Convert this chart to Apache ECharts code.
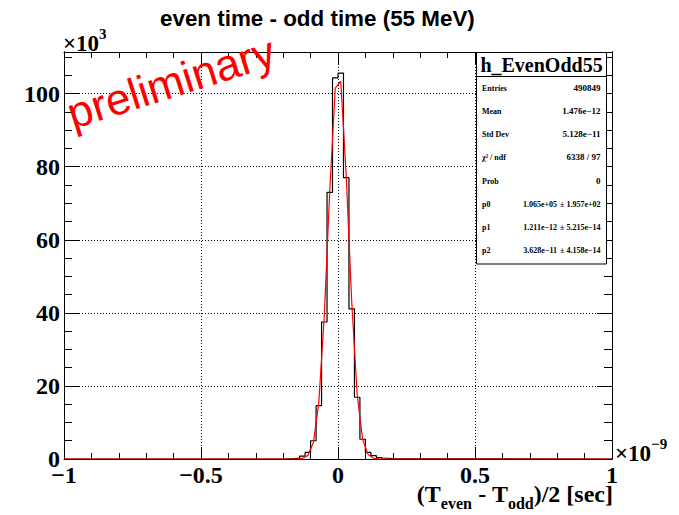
<!DOCTYPE html>
<html><head><meta charset="utf-8">
<script src="https://cdn.jsdelivr.net/npm/echarts@6/dist/echarts.min.js"></script>
<style>html,body{margin:0;padding:0;background:#fff}#c{width:679px;height:515px}</style>
</head><body><div id="c"></div>
<script>
// ---- data ----
const chartTitle = 'even time - odd time (55 MeV)';
const xRange = [-1, 1];
const yRange = [0, 111.4];           // counts in units of 10^3
const binWidth = 0.02;               // units of 10^-9 s
const binCenters = [-0.19,-0.17,-0.15,-0.13,-0.11,-0.09,-0.07,-0.05,-0.03,-0.01,
                     0.01, 0.03, 0.05, 0.07, 0.09, 0.11, 0.13, 0.15, 0.17, 0.19];
const binCounts  = [0.05, 0.1, 0.25, 0.8, 1.8, 5.0, 14.6, 37.5, 73.0, 104.3,
                    105.6, 77.0, 41.1, 16.9, 5.4, 1.8, 0.9, 0.4, 0.2, 0.1];
const fitX = [-1, -0.19,-0.17,-0.15,-0.13,-0.11,-0.09,-0.07,-0.05,-0.03,-0.01,
               0.01, 0.03, 0.05, 0.07, 0.09, 0.11, 0.13, 0.15, 0.17, 0.19, 1];
const fitY = [0, 0, 0, 0.02, 0.15, 0.97, 4.5, 15.5, 39.3, 73.6, 101.5,
              103.4, 77.7, 43.1, 17.7, 5.3, 1.2, 0.2, 0.02, 0, 0, 0];
const statsName = 'h_EvenOdd55';
const statsLabels = ['Entries', 'Mean', 'Std Dev', 'χ² / ndf', 'Prob', 'p0', 'p1', 'p2'];
const statsValues = ['490849', '1.476e−12', '5.128e−11', '6338 / 97', '0', '1.065e+05', '1.211e−12', '3.628e−11'];
const statsErrors = ['', '', '', '', '', '± 1.957e+02', '± 5.215e−14', '± 4.158e−14'];
const watermark = 'preliminary';

// ---- build ----
const histData = [[xRange[0], 0], [binCenters[0] - binWidth / 2, 0]];
binCenters.forEach((c, i) => {
  histData.push([c - binWidth / 2, binCounts[i]]);
  histData.push([c + binWidth / 2, binCounts[i]]);
});
histData.push([binCenters[binCenters.length - 1] + binWidth / 2, 0]);
histData.push([xRange[1], 0]);
const fitData = fitX.map((x, i) => [x, fitY[i]]);

const serif = '"Liberation Serif", "DejaVu Serif", serif';
const sans = '"Liberation Sans", Arial, sans-serif';
const dotted = { show: true, lineStyle: { color: '#000', width: 1, type: [1, 2] } };
const fmtX = v => (v < 0 ? '−' + String(-v) : String(v));

function xAx(pos, labels) {
  return {
    type: 'value', position: pos, min: xRange[0], max: xRange[1], interval: 0.5,
    axisLine: { show: true, onZero: false, lineStyle: { color: '#000', width: 1 } },
    axisTick: { show: true, inside: true, length: 12, lineStyle: { color: '#000' } },
    minorTick: { show: true, splitNumber: 5, length: 6, lineStyle: { color: '#000' } },
    axisLabel: labels ? { show: true, color: '#000', fontFamily: serif, fontWeight: 'bold', fontSize: 24, lineHeight: 16, margin: 8, formatter: fmtX } : { show: false },
    splitLine: labels ? dotted : { show: false },
    minorSplitLine: { show: false }
  };
}
function yAx(pos, major, labels) {
  return {
    type: 'value', position: pos, min: yRange[0], max: yRange[1], interval: major ? 20 : 5,
    axisLine: { show: true, onZero: false, lineStyle: { color: '#000', width: 1 } },
    axisTick: { show: true, inside: true, length: major ? 15 : 8, lineStyle: { color: '#000' } },
    axisLabel: labels ? { show: true, color: '#000', fontFamily: serif, fontWeight: 'bold', fontSize: 24, lineHeight: 14, margin: 4,
      formatter: v => (Math.abs(v % 20) < 1e-9 ? String(v) : '') } : { show: false },
    splitLine: labels ? dotted : { show: false }
  };
}

const rowY = [88.3, 111, 134.3, 157.3, 181, 204.3, 227.7, 250.7];
const labFont = 'bold 8px ' + serif;
const statsGraphics = [
  { type: 'rect', z: 100, shape: { x: 476.5, y: 52.5, width: 130, height: 211.5 }, style: { fill: '#fff', stroke: '#000', lineWidth: 1 } },
  { type: 'line', z: 101, shape: { x1: 476.5, y1: 76.5, x2: 606.5, y2: 76.5 }, style: { stroke: '#000', lineWidth: 1 } },
  { type: 'text', z: 101, x: 541.5, y: 64.5, style: { text: statsName, font: 'bold 20px ' + serif, fill: '#000', textAlign: 'center', textVerticalAlign: 'middle' } }
];
statsLabels.forEach((lab, i) => {
  statsGraphics.push({ type: 'text', z: 101, x: 482, y: rowY[i], style: { text: lab, font: labFont, fill: '#000', textAlign: 'left', textVerticalAlign: 'middle' } });
  const hasErr = statsErrors[i] !== '';
  const vf = hasErr ? 'bold 8px ' + serif : 'bold 9px ' + serif;
  statsGraphics.push({ type: 'text', z: 101, x: hasErr ? 557 : 600.5, y: rowY[i], style: { text: statsValues[i], font: vf, fill: '#000', textAlign: 'right', textVerticalAlign: 'middle' } });
  if (hasErr) statsGraphics.push({ type: 'text', z: 101, x: 600.5, y: rowY[i], style: { text: statsErrors[i], font: vf, fill: '#000', textAlign: 'right', textVerticalAlign: 'middle' } });
});

const chart = echarts.init(document.getElementById('c'), null, { renderer: 'svg' });
chart.setOption({
  animation: false,
  backgroundColor: '#fff',
  title: { text: chartTitle, left: 160, top: 7, padding: 0,
    textStyle: { fontFamily: sans, fontWeight: 'bold', fontSize: 22.4, color: '#000', lineHeight: 22 } },
  grid: { left: 64, right: 67, top: 52, bottom: 56, containLabel: false },
  xAxis: [xAx('bottom', true), xAx('top', false)],
  yAxis: [yAx('left', true, true), yAx('left', false, false), yAx('right', true, false), yAx('right', false, false)],
  series: [
    { type: 'line', xAxisIndex: 0, yAxisIndex: 0, data: histData, symbol: 'none', z: 3,
      lineStyle: { color: '#000', width: 1.2 } },
    { type: 'line', xAxisIndex: 0, yAxisIndex: 0, data: fitData, symbol: 'none', z: 4,
      lineStyle: { color: '#ff0000', width: 1.2 } }
  ],
  graphic: [
    { type: 'text', z: 50, x: 171, y: 82, rotation: 17.5 * Math.PI / 180,
      style: { text: watermark, font: '44px ' + sans, fill: '#ff0000', textAlign: 'center', textVerticalAlign: 'middle' } },
    { type: 'text', z: 50, x: 63, y: 26,
      style: { text: '{m|×10}{p|3}', fill: '#000', textAlign: 'left', textVerticalAlign: 'top',
        rich: { m: { font: 'bold 23px ' + serif, lineHeight: 22, padding: [6, 0, 0, 0], verticalAlign: 'top' },
                p: { font: 'bold 15px ' + serif, lineHeight: 15, verticalAlign: 'top' } } } },
    { type: 'text', z: 50, x: 615, y: 436,
      style: { text: '{m|×10}{p|−9}', fill: '#000', textAlign: 'left', textVerticalAlign: 'top',
        rich: { m: { font: 'bold 23px ' + serif, lineHeight: 22, padding: [6, 0, 0, 0], verticalAlign: 'top' },
                p: { font: 'bold 15px ' + serif, lineHeight: 15, verticalAlign: 'top' } } } },
    { type: 'text', z: 50, x: 613, y: 482,
      style: { text: '{m|(T}{s|even}{m| - T}{s|odd}{m|)/2 [sec]}', fill: '#000', textAlign: 'right', textVerticalAlign: 'top',
        rich: { m: { font: 'bold 24px ' + serif, lineHeight: 18, verticalAlign: 'top' },
                s: { font: 'bold 16px ' + serif, lineHeight: 13, padding: [13, 0, 0, 0], verticalAlign: 'top' } } } },
    ...statsGraphics
  ]
});
</script></body></html>
